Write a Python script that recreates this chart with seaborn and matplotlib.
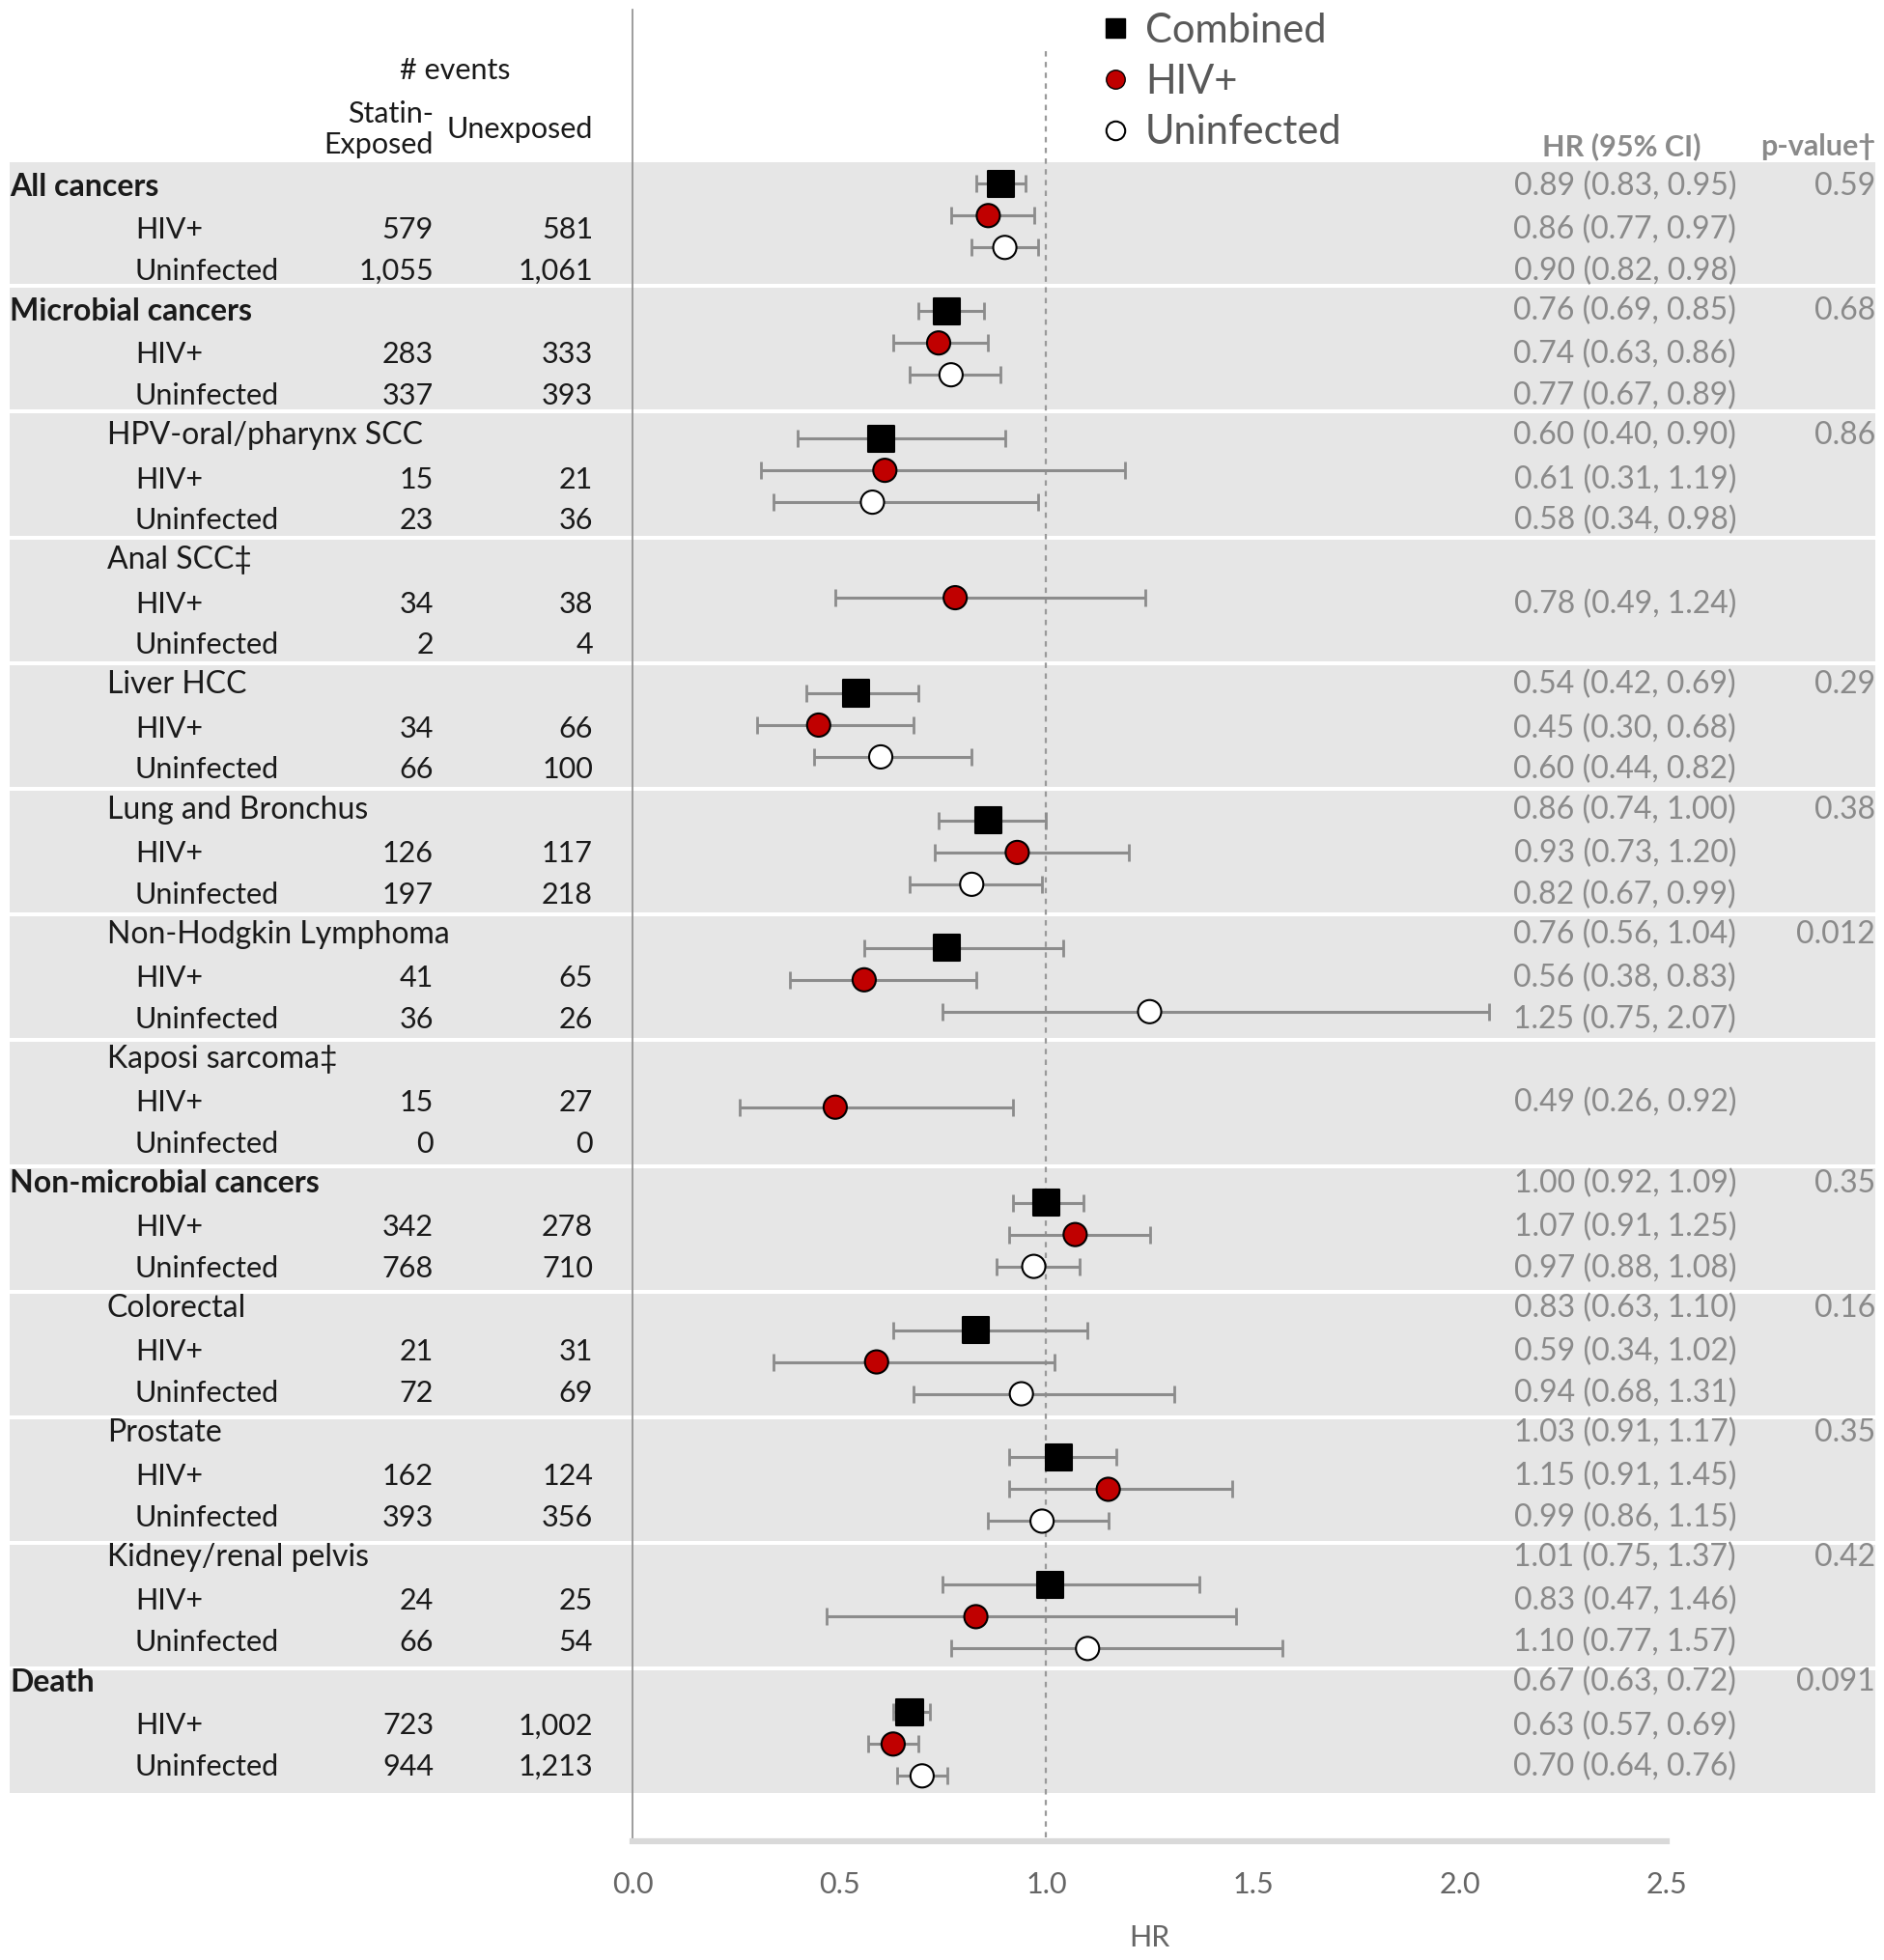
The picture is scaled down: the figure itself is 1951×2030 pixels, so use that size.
import numpy as np
import pandas as pd
import matplotlib
matplotlib.use("Agg")
import matplotlib.pyplot as plt
from matplotlib.lines import Line2D
import seaborn as sns

# ---------------------------
# data
# ---------------------------
groups = ["All cancers", "Microbial cancers", "HPV-oral/pharynx SCC", "Anal SCC\u2021",
          "Liver HCC", "Lung and Bronchus", "Non-Hodgkin Lymphoma", "Kaposi sarcoma\u2021",
          "Non-microbial cancers", "Colorectal", "Prostate", "Kidney/renal pelvis", "Death"]
bold_groups = ["All cancers", "Microbial cancers", "Non-microbial cancers", "Death"]

# hazard ratios (point, lower, upper); None where not estimated
combined_hr = [0.89, 0.76, 0.60, None, 0.54, 0.86, 0.76, None, 1.00, 0.83, 1.03, 1.01, 0.67]
combined_lo = [0.83, 0.69, 0.40, None, 0.42, 0.74, 0.56, None, 0.92, 0.63, 0.91, 0.75, 0.63]
combined_hi = [0.95, 0.85, 0.90, None, 0.69, 1.00, 1.04, None, 1.09, 1.10, 1.17, 1.37, 0.72]

hiv_hr = [0.86, 0.74, 0.61, 0.78, 0.45, 0.93, 0.56, 0.49, 1.07, 0.59, 1.15, 0.83, 0.63]
hiv_lo = [0.77, 0.63, 0.31, 0.49, 0.30, 0.73, 0.38, 0.26, 0.91, 0.34, 0.91, 0.47, 0.57]
hiv_hi = [0.97, 0.86, 1.19, 1.24, 0.68, 1.20, 0.83, 0.92, 1.25, 1.02, 1.45, 1.46, 0.69]

uninf_hr = [0.90, 0.77, 0.58, None, 0.60, 0.82, 1.25, None, 0.97, 0.94, 0.99, 1.10, 0.70]
uninf_lo = [0.82, 0.67, 0.34, None, 0.44, 0.67, 0.75, None, 0.88, 0.68, 0.86, 0.77, 0.64]
uninf_hi = [0.98, 0.89, 0.98, None, 0.82, 0.99, 2.07, None, 1.08, 1.31, 1.15, 1.57, 0.76]

p_values = ["0.59", "0.68", "0.86", "", "0.29", "0.38", "0.012", "", "0.35", "0.16", "0.35", "0.42", "0.091"]

# number of events: statin-exposed / unexposed
hiv_exposed = ["579", "283", "15", "34", "34", "126", "41", "15", "342", "21", "162", "24", "723"]
hiv_unexposed = ["581", "333", "21", "38", "66", "117", "65", "27", "278", "31", "124", "25", "1,002"]
uninf_exposed = ["1,055", "337", "23", "2", "66", "197", "36", "0", "768", "72", "393", "66", "944"]
uninf_unexposed = ["1,061", "393", "36", "4", "100", "218", "26", "0", "710", "69", "356", "54", "1,213"]

series_names = ["Combined", "HIV+", "Uninfected"]
x_ticks = [0.0, 0.5, 1.0, 1.5, 2.0, 2.5]

# ---------------------------
# build long table
# ---------------------------
rows = []
for g, name in enumerate(groups):
    for k, (hr, lo, hi) in enumerate([(combined_hr, combined_lo, combined_hi),
                                      (hiv_hr, hiv_lo, hiv_hi),
                                      (uninf_hr, uninf_lo, uninf_hi)]):
        if hr[g] is None:
            continue
        rows.append({"group": name, "g": g, "k": k, "series": series_names[k],
                     "hr": hr[g], "lo": lo[g], "hi": hi[g], "slot": 4 * g + k})
df = pd.DataFrame(rows)

# ---------------------------
# figure
# ---------------------------
sns.set_theme(style="white")
plt.rcParams["font.family"] = ["Lato", "DejaVu Sans"]

W, H = 1951, 2030
fig = plt.figure(figsize=(W / 100, H / 100), dpi=100)

# background layer in pixel units for the table
bg = fig.add_axes([0, 0, 1, 1], zorder=0)
bg.set_xlim(0, W)
bg.set_ylim(H, 0)
bg.axis("off")

band_top, band_h = 166, 130.2
text_top, text_step = 193, 129.1
text_offsets = [0, 45.3, 88.0]
band_color = "#e6e6e6"
dark = "#1a1a1a"
grey_txt = "#8a8a8a"
fs = 22
narrow = ["Liberation Sans Narrow", "Lato"]

for g, name in enumerate(groups):
    y0 = band_top + band_h * g
    bg.add_patch(plt.Rectangle((10, y0 + 2), 1932, band_h - 4, color=band_color, lw=0))
    ty = [text_top + text_step * g + o for o in text_offsets]
    if name in bold_groups:
        bg.text(10, ty[0], name, fontsize=fs + 1, fontweight="bold", color=dark, va="center", ha="left")
    else:
        bg.text(111, ty[0], name, fontsize=fs + 1, color=dark, va="center", ha="left")
    bg.text(140, ty[1], "HIV+", fontsize=fs, color=dark, va="center")
    bg.text(140, ty[2], "Uninfected", fontsize=fs, color=dark, va="center")
    bg.text(449, ty[1], hiv_exposed[g], fontsize=fs, color=dark, va="center", ha="right")
    bg.text(614, ty[1], hiv_unexposed[g], fontsize=fs, color=dark, va="center", ha="right")
    bg.text(449, ty[2], uninf_exposed[g], fontsize=fs, color=dark, va="center", ha="right")
    bg.text(614, ty[2], uninf_unexposed[g], fontsize=fs, color=dark, va="center", ha="right")
    for k, (hr, lo, hi) in enumerate([(combined_hr, combined_lo, combined_hi),
                                      (hiv_hr, hiv_lo, hiv_hi),
                                      (uninf_hr, uninf_lo, uninf_hi)]):
        if hr[g] is None:
            continue
        bg.text(1798, ty[k], f"{hr[g]:.2f} ({lo[g]:.2f}, {hi[g]:.2f})", fontsize=fs + 1,
                family=narrow, color=grey_txt, va="center", ha="right")
    if p_values[g]:
        bg.text(1942, ty[0], p_values[g], fontsize=fs + 1, family=narrow,
                color=grey_txt, va="center", ha="right")

# column headers
bg.text(471, 73, "# events", fontsize=fs, color=dark, va="center", ha="center")
bg.text(449, 134, "Statin-\nExposed", fontsize=fs, color=dark, va="center", ha="right",
        multialignment="right", linespacing=1.15)
bg.text(614, 134, "Unexposed", fontsize=fs, color=dark, va="center", ha="right")
bg.text(1679, 152, "HR (95% CI)", fontsize=fs, family=narrow, fontweight="bold",
        color=grey_txt, va="center", ha="center")
bg.text(1942, 152, "p-value\u2020", fontsize=fs, family=narrow, fontweight="bold",
        color=grey_txt, va="center", ha="right")

# forest axes
x0, x1, y_top, y_bot = 655, 1726, 10, 1907
ax = fig.add_axes([x0 / W, (H - y_bot) / H, (x1 - x0) / W, (y_bot - y_top) / H], zorder=1)
ax.patch.set_alpha(0)

slot0, slot_px = 190.3, 32.98
ax.set_ylim((y_bot - slot0) / slot_px, (y_top - slot0) / slot_px)
ax.set_xlim(0, 2.5)

ax.vlines(1.0, (53 - slot0) / slot_px, (y_bot - slot0) / slot_px, colors="#9a9a9a",
          linestyles=(0, (2.5, 2.5)), linewidth=1.6, zorder=1)

ax.errorbar(df["hr"], df["slot"], xerr=[df["hr"] - df["lo"], df["hi"] - df["hr"]],
            fmt="none", ecolor="#8c8c8c", elinewidth=2.2, capsize=6.5, capthick=2, zorder=2)

palette = {"Combined": "black", "HIV+": "#c00000", "Uninfected": "white"}
markers = {"Combined": "s", "HIV+": "o", "Uninfected": "o"}
sizes = {"Combined": 380, "HIV+": 300, "Uninfected": 300}
sns.scatterplot(data=df, x="hr", y="slot", hue="series", style="series", size="series",
                palette=palette, markers=markers, sizes=sizes, edgecolor="black",
                linewidth=1.5, legend=False, ax=ax, zorder=3)

sns.despine(ax=ax, top=True, right=True)
ax.spines["left"].set_color("#8c8c8c")
ax.spines["left"].set_linewidth(1.2)
ax.spines["bottom"].set_color("#d9d9d9")
ax.spines["bottom"].set_linewidth(4.5)
ax.set_yticks([])
ax.set_xticks(x_ticks)
ax.set_xticklabels([f"{t:.1f}" for t in x_ticks])
ax.tick_params(axis="x", length=0, pad=22, labelsize=fs, labelcolor="#666666")
ax.set_xlabel("HR", fontsize=fs, color="#666666", labelpad=20)
ax.set_ylabel("")

# legend
handles = [Line2D([], [], marker="s", ls="none", color="black", markersize=15),
           Line2D([], [], marker="o", ls="none", markerfacecolor="#c00000",
                  markeredgecolor="black", markersize=14),
           Line2D([], [], marker="o", ls="none", markerfacecolor="white",
                  markeredgecolor="black", markeredgewidth=1.5, markersize=14)]
fig.legend(handles, series_names, loc="upper left", bbox_to_anchor=(1140 / W, 1 - 13 / H),
           frameon=False, fontsize=30, handlelength=0.7, handletextpad=0.4,
           labelspacing=0.35, borderaxespad=0, borderpad=0, labelcolor="#595959")

fig.savefig("out.png", dpi=100)
